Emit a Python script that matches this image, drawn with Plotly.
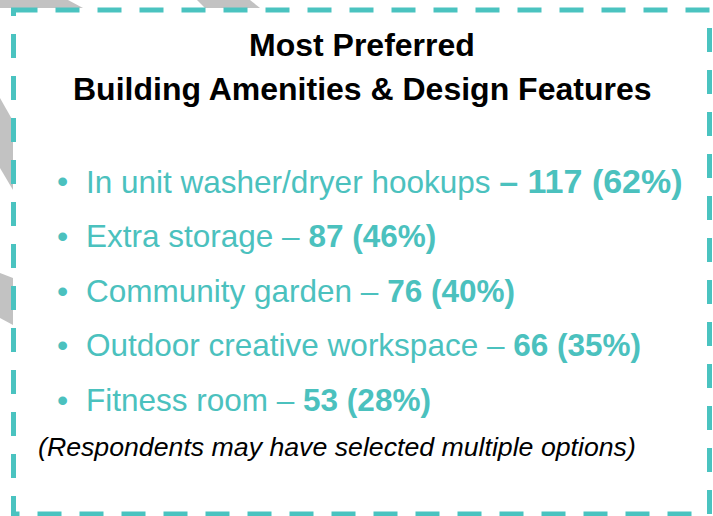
import plotly.graph_objects as go

# ---- data ----
title_lines = ["Most Preferred", "Building Amenities & Design Features"]
amenities = [
    "In unit washer/dryer hookups",
    "Extra storage",
    "Community garden",
    "Outdoor creative workspace",
    "Fitness room",
]
counts = [117, 87, 76, 66, 53]
percents = [62, 46, 40, 35, 28]
footnote = "(Respondents may have selected multiple options)"

TEAL = "#4BC1BE"
BORDER = "#4AC3C0"
GRAY = "#C2C2C2"
FONT = "Liberation Sans, Arial, Helvetica, sans-serif"
TEXT_SIZE = 31.5
FIRST_BOLD_SIZE = 34  # the first item's highlighted figure is set a touch larger

W, H = 713, 516
fig = go.Figure()

# background gray stripes (decorative, partially hidden behind the box)
stripes = [
    [(0, 0), (68, 0), (83, 8), (0, 8)],
    [(197, 0), (250, 0), (260, 8), (205, 8)],
    [(0, 98), (13, 121), (13, 190), (0, 168)],
    [(0, 273), (13, 278), (13, 325), (0, 318)],
]
for pts in stripes:
    path = "M " + " L ".join(f"{x},{y}" for x, y in pts) + " Z"
    fig.add_shape(type="path", path=path, xref="x", yref="y",
                  fillcolor=GRAY, line=dict(width=0), layer="below")

# dashed border
fig.add_shape(type="rect", x0=13.5, y0=10, x1=709.5, y1=514, xref="x", yref="y",
              line=dict(color=BORDER, width=5, dash="24px,18px"),
              fillcolor="rgba(0,0,0,0)")

# title
title_y = [45, 89]
for t, y in zip(title_lines, title_y):
    fig.add_annotation(x=362, y=y, xref="x", yref="y", text=f"<b>{t}</b>",
                       showarrow=False, xanchor="center", yanchor="middle",
                       font=dict(family=FONT, size=32, color="#000000"))

# bullet list
row_y = [181, 236, 291, 345, 400]
for i, (name, c, p, y) in enumerate(zip(amenities, counts, percents, row_y)):
    if i == 0:
        txt = (f"{name} <span style='font-size:{FIRST_BOLD_SIZE}px'>"
               f"<b>– {c} ({p}%)</b></span>")
    else:
        txt = f"{name} – <b>{c} ({p}%)</b>"
    fig.add_annotation(x=62, y=y, xref="x", yref="y", text="•", showarrow=False,
                       xanchor="center", yanchor="middle",
                       font=dict(family=FONT, size=32, color=TEAL))
    fig.add_annotation(x=84, y=y, xref="x", yref="y", text=txt, showarrow=False,
                       xanchor="left", yanchor="middle",
                       font=dict(family=FONT, size=TEXT_SIZE, color=TEAL))

# footnote
fig.add_annotation(x=36, y=447, xref="x", yref="y", text=f"<i>{footnote}</i>",
                   showarrow=False, xanchor="left", yanchor="middle",
                   font=dict(family=FONT, size=26.7, color="#000000"))

fig.update_layout(
    width=W, height=H,
    margin=dict(l=0, r=0, t=0, b=0),
    paper_bgcolor="white", plot_bgcolor="white",
    xaxis=dict(range=[0, W], visible=False, fixedrange=True),
    yaxis=dict(range=[H, 0], visible=False, fixedrange=True),
    showlegend=False,
)

fig.write_html("out.html", config={"displayModeBar": False},
               post_script="document.body.style.margin='0px';document.body.style.overflow='hidden';")
